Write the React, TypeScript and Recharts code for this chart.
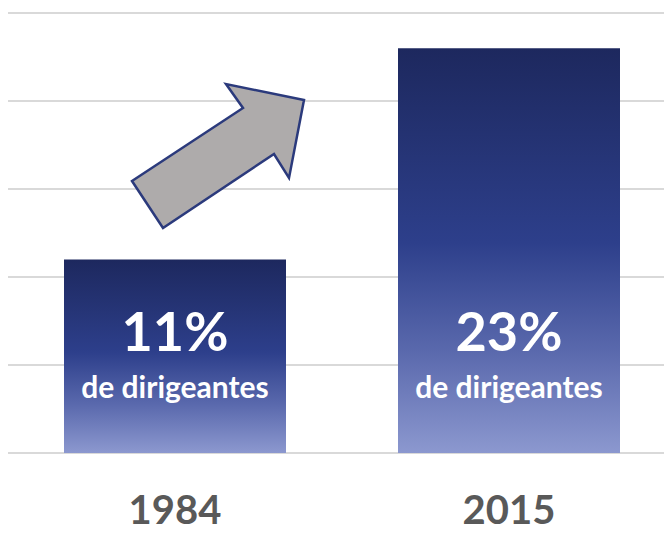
import React from 'react';
import { BarChart, Bar, CartesianGrid, LabelList, XAxis, YAxis, Customized } from 'recharts';

const years = ['1984', '2015'];
const shares = [11, 23];
const subLabel = 'de dirigeantes';
const yTicks = [0, 5, 10, 15, 20, 25];

const data = years.map((y, i) => ({ year: y, share: shares[i] }));

const FONT = 'Lato, "Open Sans", sans-serif';

function YearTick(props: any) {
  return (
    <text
      x={props.x}
      y={props.y + 71}
      textAnchor="middle"
      fill="#595959"
      fontFamily={FONT}
      fontWeight={700}
      fontSize={40}
    >
      {props.payload.value}
    </text>
  );
}

function BarText(props: any) {
  const cx = props.x + props.width / 2;
  const bottom = props.y + props.height;
  return (
    <g fontFamily={FONT} fontWeight={700} fill="#ffffff" textAnchor="middle">
      <text x={cx} y={bottom - 102} fontSize={54}>{props.value}%</text>
      <text x={cx} y={bottom - 55} fontSize={30}>{subLabel}</text>
    </g>
  );
}

// decorative arrow between the two bars
function Arrow() {
  const pts = '124,173 235,100 218,76 296,92 281,170 266,146 155,220';
  return <polygon points={pts} fill="#aeabab" stroke="#2b3a7c" strokeWidth={2.5} strokeLinejoin="miter" />;
}

export default function App() {
  return (
    <div style={{ width: 664, height: 525, overflow: 'hidden' }}>
      <BarChart
        width={668}
        height={525}
        data={data}
        margin={{ top: 5, right: 0, bottom: 0, left: 0 }}
        barCategoryGap={0}
      >
        <defs>
          <linearGradient id="barFill" x1="0" y1="0" x2="0" y2="1">
            <stop offset="0%" stopColor="#1d285e" />
            <stop offset="48%" stopColor="#2d3f8b" />
            <stop offset="75%" stopColor="#5a69ad" />
            <stop offset="100%" stopColor="#8c98cf" />
          </linearGradient>
        </defs>
        <CartesianGrid vertical={false} stroke="#d9d9d9" strokeWidth={2} />
        <YAxis hide domain={[0, 25]} ticks={yTicks} />
        <XAxis
          dataKey="year"
          axisLine={false}
          tickLine={false}
          tickSize={0}
          tickMargin={0}
          height={80}
          tick={<YearTick />}
          interval={0}
        />
        <Bar dataKey="share" barSize={222} fill="url(#barFill)" isAnimationActive={false}>
          <LabelList dataKey="share" content={<BarText />} />
        </Bar>
        <Customized component={<Arrow />} />
      </BarChart>
    </div>
  );
}
